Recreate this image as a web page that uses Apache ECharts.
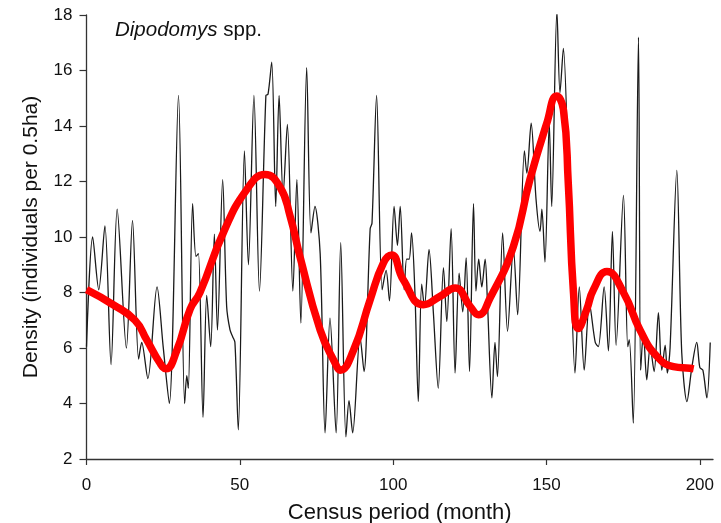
<!DOCTYPE html>
<html>
<head>
<meta charset="utf-8">
<script src="https://cdn.jsdelivr.net/npm/echarts@6/dist/echarts.min.js"></script>
<style>
html,body{margin:0;padding:0;background:#fff;}
#chart{width:721px;height:523px;}
</style>
</head>
<body>
<div id="chart"></div>
<script>
// Monthly density (black, raw census) – month positions and values
const blackMonths = [0,2,4,6,8,10,13,15,17,18,20,23,25,27,30,32,32.7,33.2,34.6,35.7,36.5,38,39.2,40.5,41.7,42.7,44.4,45.7,46.8,47.7,48.4,49.5,51.5,52.8,54.6,56.4,58.5,59.2,60.4,61.7,62.8,64.1,65.5,67.3,68.6,69.9,71.8,73.2,74.5,76.2,77.8,79.4,81.4,82.9,84.6,85.6,86.8,89.2,90.5,92.5,93.1,94.6,96.4,97.7,98.8,100.3,101.4,102.3,103.6,104.4,105.2,106,107.1,108.2,109.3,110.2,111.7,113.1,114.7,116.4,117.5,118.9,120.2,121.5,122.7,123.8,124.9,126.2,127,127.9,128.9,130,130.7,132.2,133.2,134,135.7,137.3,139.2,140.6,142.8,143.6,145,146.6,147.9,148.5,149.5,150.9,151.7,153.4,154.4,155.5,157.5,159.3,160.7,162.3,164,165.9,166.9,168.8,170.2,171.5,172.7,175.1,176.5,177,178.3,180,180.7,181.6,182.7,183.8,185.1,186.5,187.6,188.7,189.4,190.3,192.5,194.1,195.8,197.4,199,200,201,202.3,203.4];
const blackDensity = [6.05,10.0,8.1,10.4,5.4,11.0,6.0,10.6,5.6,6.2,4.9,8.2,6.05,4.0,15.1,4.0,5.0,4.55,11.2,9.3,9.4,3.5,7.9,6.05,10.1,6.65,12.07,7.5,6.65,6.4,6.2,3.05,13.1,9.0,15.1,8.05,15.1,15.15,16.3,11.1,15.1,11.5,14.06,8.05,12.07,6.9,16.1,10.15,11.1,9.4,2.94,7.08,2.94,9.8,2.8,4.1,2.94,6.4,5.15,10.3,10.5,15.1,8.1,8.8,7.7,11.1,9.7,11.1,8.1,9.2,9.2,10.15,8.0,4.07,8.3,7.5,9.55,7.3,4.55,8.9,6.95,10.3,5.1,8.7,7.3,9.25,5.15,11.2,8.05,9.2,8.2,9.2,7.8,4.2,6.2,4.97,10.15,6.6,9.6,7.2,13.1,12.3,14.1,11.35,10.2,11.0,9.1,14.1,11.1,18.15,15.2,16.8,10.75,5.1,8.2,5.2,7.6,6.2,6.05,8.2,5.9,10.2,6.1,11.5,6.05,6.3,3.29,17.2,5.2,6.55,4.85,6.05,5.15,7.27,5.2,6.1,5.1,6.0,12.4,5.85,4.07,5.3,6.2,5.3,5.2,4.2,6.2];

// Smoothed trend (red)
const redMonths = [0,8.7,15.8,19.6,24,25.9,29.4,33.8,37,44.6,52.2,58.2,63.1,66.4,69.6,76.2,81.1,82.7,87,92.5,96.8,99.5,103.3,109.9,115.3,120.2,125.1,127.8,131.6,139.2,144.6,150.1,153.3,155.5,157.1,158.8,160.4,163.1,165.3,169.7,175.1,180.5,186,191.4,196.8,198];
const redDensity = [8.1,7.56,7.0,6.3,5.45,5.25,5.9,7.4,8.0,10.15,11.7,12.25,11.8,10.75,9.3,6.65,5.45,5.2,5.9,7.74,9.06,9.35,8.46,7.56,7.86,8.16,7.5,7.2,7.8,9.66,12.07,14.1,15.08,14.6,11.95,8.0,6.7,7.38,8.1,8.76,8.0,6.65,5.7,5.33,5.27,5.25];

const xTicks = [0,50,100,150,200];
const yTicks = [2,4,6,8,10,12,14,16,18];

const titleItalic = 'Dipodomys';
const titleRest = ' spp.';
const xName = 'Census period (month)';
const yName = 'Density (individuals per 0.5ha)';

const FONT = '"Liberation Sans", Arial, sans-serif';
const chart = echarts.init(document.getElementById('chart'), null, {renderer:'canvas'});

const blackData = blackMonths.map((m,i)=>[m, blackDensity[i]]);
const redData = redMonths.map((m,i)=>[m, redDensity[i]]);

chart.setOption({
  animation:false,
  backgroundColor:'#fff',
  grid:{left:86.5, right:8, top:15, bottom:64, containLabel:false, outerBoundsMode:'none'},
  graphic:[{
    type:'text', left:115, top:20,
    style:{
      text:'{i|'+titleItalic+'}{n|'+titleRest+'}',
      rich:{
        i:{fontStyle:'italic', fontSize:20.5, fontFamily:FONT, fill:'#111'},
        n:{fontSize:20.5, fontFamily:FONT, fill:'#111'}
      }
    }
  }],
  xAxis:{
    type:'value', min:0, max:204.3,
    name:xName, nameLocation:'middle', nameGap:43,
    nameTextStyle:{fontSize:22, fontFamily:FONT, color:'#111'},
    axisLine:{show:true, lineStyle:{color:'#333', width:1.3}},
    axisTick:{show:true, length:6, customValues:xTicks, lineStyle:{color:'#333', width:1.2}},
    axisLabel:{customValues:xTicks, fontSize:17, fontFamily:FONT, color:'#111', margin:18},
    splitLine:{show:false}
  },
  yAxis:{
    type:'value', min:2, max:18, interval:2,
    name:yName, nameLocation:'middle', nameGap:45, nameRotate:90,
    nameTextStyle:{fontSize:21, fontFamily:FONT, color:'#111'},
    axisLine:{show:true, lineStyle:{color:'#333', width:1.3}},
    axisTick:{show:true, length:7, lineStyle:{color:'#333', width:1.2}},
    axisLabel:{fontSize:17, fontFamily:FONT, color:'#111', margin:14},
    splitLine:{show:false}
  },
  series:[
    {type:'line', data:blackData, showSymbol:false, smooth:0.3,
     lineStyle:{color:'#1a1a1a', width:1.3}, z:2},
    {type:'line', data:redData, showSymbol:false, smooth:0.5,
     lineStyle:{color:'#ff0000', width:7.5, cap:'butt', join:'round'}, z:3}
  ]
});
</script>
</body>
</html>
